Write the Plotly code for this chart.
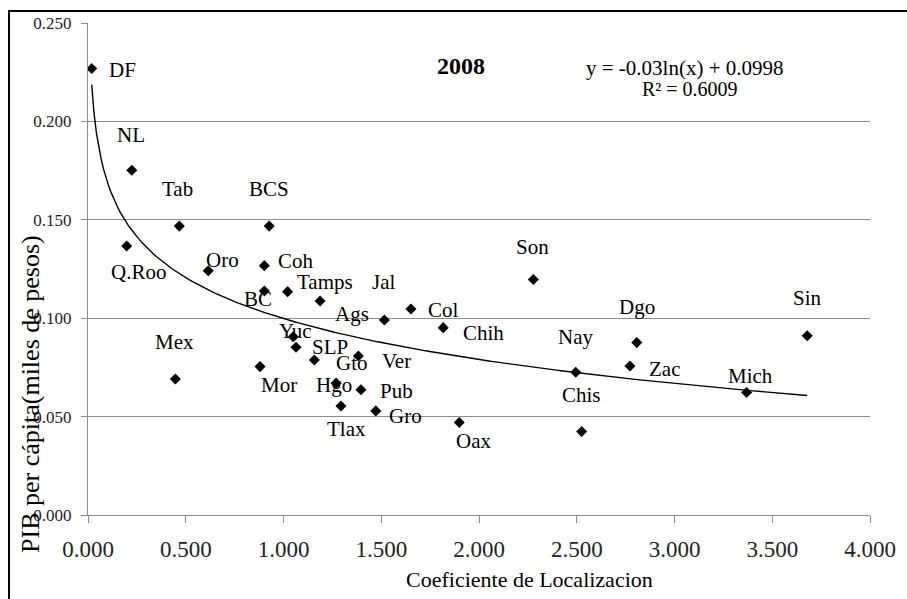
import numpy as np
import plotly.graph_objects as go

# ---------------- data ----------------
states = ["DF", "NL", "Tab", "BCS", "Q.Roo", "Oro", "Coh", "BC", "Tamps", "Ags",
          "Jal", "Col", "Chih", "Son", "Yuc", "SLP", "Gto", "Ver", "Mex", "Mor",
          "Hgo", "Pub", "Tlax", "Gro", "Oax", "Nay", "Chis", "Dgo", "Zac", "Mich", "Sin"]
coef_loc = [0.019, 0.224, 0.467, 0.927, 0.198, 0.615, 0.902, 0.902, 1.021, 1.187,
            1.516, 1.652, 1.817, 2.278, 1.050, 1.064, 1.158, 1.383, 0.447, 0.880,
            1.269, 1.396, 1.294, 1.472, 1.899, 2.495, 2.525, 2.807, 2.772, 3.369, 3.679]
pib_pc = [0.2269, 0.1752, 0.1468, 0.1468, 0.1367, 0.1241, 0.1267, 0.1138, 0.1135, 0.1087,
          0.0991, 0.1047, 0.0952, 0.1197, 0.0906, 0.0852, 0.0788, 0.0808, 0.0691, 0.0754,
          0.0670, 0.0636, 0.0554, 0.0529, 0.0470, 0.0725, 0.0424, 0.0876, 0.0757, 0.0622, 0.0911]

# displayed logarithmic trend line: y = a*ln(x) + b
trend_a = -0.03
trend_b = 0.0998
r_squared = 0.6009

x_ticks = [0.0, 0.5, 1.0, 1.5, 2.0, 2.5, 3.0, 3.5, 4.0]
y_ticks = [0.0, 0.05, 0.10, 0.15, 0.20, 0.25]

title_text = "2008"
x_title = "Coeficiente de Localizacion"
y_title = "PIB per cápita(miles de pesos)"

# ---------------- label placement (pixel offsets: right, down) ----------------
label_offsets = {
    "DF": (31, 2), "NL": (-1, -35), "Tab": (-2, -37), "BCS": (0, -37),
    "Q.Roo": (12, 26), "Oro": (14, -11), "Coh": (32, -5), "BC": (-6, 8),
    "Tamps": (37, -10), "Ags": (32, 13), "Jal": (-1, -38), "Col": (33, 1),
    "Chih": (40, 5), "Son": (-1, -32), "Yuc": (2, -6), "SLP": (34, 0),
    "Gto": (38, 3), "Ver": (38, 5), "Mex": (-1, -37), "Mor": (19, 18),
    "Hgo": (-2, 2), "Pub": (36, 1), "Tlax": (6, 23), "Gro": (30, 5),
    "Oax": (14, 18), "Nay": (0, -35), "Chis": (0, -37), "Dgo": (0, -36),
    "Zac": (35, 3), "Mich": (4, -17), "Sin": (0, -38),
}

FONT = "Liberation Serif, Times New Roman, serif"
GRID = "#8c8c8c"

fig = go.Figure()

# trend line
xt = np.linspace(min(coef_loc), max(coef_loc), 300)
yt = trend_a * np.log(xt) + trend_b
fig.add_trace(go.Scatter(x=xt, y=yt, mode="lines",
                         line=dict(color="black", width=1.4),
                         hoverinfo="skip", showlegend=False))

# points
fig.add_trace(go.Scatter(x=coef_loc, y=pib_pc, mode="markers",
                         marker=dict(symbol="diamond", size=8.5, color="black"),
                         text=states, showlegend=False))

annotations = []
for s, xv, yv in zip(states, coef_loc, pib_pc):
    dx, dy = label_offsets[s]
    annotations.append(dict(x=xv, y=yv, xref="x", yref="y", text=s, showarrow=False,
                            xshift=dx, yshift=-dy, xanchor="center", yanchor="middle",
                            font=dict(family=FONT, size=21, color="black")))

def paper_note(x, y, text, size, angle=0):
    return dict(x=x, y=y, xref="paper", yref="paper", text=text, showarrow=False,
                xanchor="center", yanchor="middle", textangle=angle,
                font=dict(family=FONT, size=size, color="black"))

annotations += [
    paper_note(0.477, 0.913, "<b>" + title_text + "</b>", 24),
    paper_note(0.763, 0.909, f"y = {trend_a:g}ln(x) + {trend_b:g}", 21),
    paper_note(0.770, 0.866, f"R² = {r_squared:.4f}", 20),
    paper_note(0.564, -0.132, x_title, 22),
    paper_note(-0.0729, 0.246, y_title, 26, angle=-90),
]

fig.update_layout(
    width=907, height=599,
    margin=dict(l=88, r=37, t=23, b=84),
    paper_bgcolor="white", plot_bgcolor="white",
    annotations=annotations,
    shapes=[dict(type="rect", xref="paper", yref="paper",
                 x0=-0.101, x1=1.2, y0=-0.4, y1=1.0244,
                 line=dict(color="black", width=2), layer="above")],
    xaxis=dict(range=[0, 4], tickvals=x_ticks, ticktext=[f"{v:.3f}" for v in x_ticks],
               showgrid=False, zeroline=False, showline=True, linecolor=GRID, linewidth=1,
               ticks="outside", ticklen=7, tickcolor=GRID, ticklabelstandoff=6,
               tickfont=dict(family=FONT, size=23, color="#222")),
    yaxis=dict(range=[0, 0.25], tickvals=y_ticks, ticktext=[f"{v:.3f}" for v in y_ticks],
               showgrid=True, gridcolor=GRID, gridwidth=1, zeroline=False,
               showline=True, linecolor=GRID, linewidth=1,
               ticks="outside", ticklen=6, tickcolor=GRID, ticklabelstandoff=6,
               tickfont=dict(family=FONT, size=17, color="#222")),
)

fig.write_html("out.html")
